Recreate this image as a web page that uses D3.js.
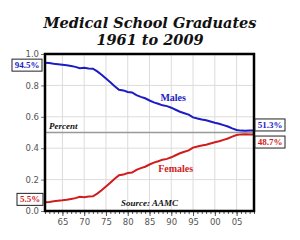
<!DOCTYPE html>
<html>
<head>
<meta charset="utf-8">
<script src="https://cdn.jsdelivr.net/npm/d3@7"></script>
<style>
  body { margin: 0; background: #fff; }
  svg { display: block; }
  .tick text { font-family: 'DejaVu Sans', sans-serif; }
</style>
</head>
<body>
<div id="graph"></div>
<script>
var years = d3.range(1961, 2010)

var males = [
  94.5, 94.2, 93.8, 93.5, 93.2, 92.8, 92.3, 91.8, 91.0, 91.2,
  90.8, 90.6, 88.9, 86.8, 84.4, 82.0, 79.5, 77.2, 76.8, 75.8,
  75.5, 73.8, 72.7, 71.8, 70.4, 69.2, 68.3, 67.3, 66.8, 65.8,
  64.5, 63.2, 62.3, 61.4, 59.6, 58.9, 58.3, 57.8, 57.0, 56.2,
  55.6, 54.7, 53.8, 52.6, 51.6, 51.2, 51.1, 51.2, 51.3
]

var females = [
   5.5,  5.8,  6.2,  6.5,  6.8,  7.2,  7.7,  8.2,  9.0,  8.8,
   9.2,  9.4, 11.1, 13.2, 15.6, 18.0, 20.5, 22.8, 23.2, 24.2,
  24.5, 26.2, 27.3, 28.2, 29.6, 30.8, 31.7, 32.7, 33.2, 34.2,
  35.5, 36.8, 37.7, 38.6, 40.4, 41.1, 41.7, 42.2, 43.0, 43.8,
  44.4, 45.3, 46.2, 47.4, 48.4, 48.8, 48.9, 48.8, 48.7
]

var yTicks = [0, 0.2, 0.4, 0.6, 0.8, 1.0]
var xTicks = [1965, 1970, 1975, 1980, 1985, 1990, 1995, 2000, 2005]
var titleLines = ['Medical School Graduates', '1961 to 2009']

var blue = '#1c1cc4'
var red = '#d01c1c'
var serif = "'Liberation Serif', 'DejaVu Serif', serif"
var titleFont = "'DejaVu Serif', serif"

var W = 300, H = 240
var margin = {left: 45, right: 46, top: 54, bottom: 29}
var width = W - margin.left - margin.right
var height = H - margin.top - margin.bottom

var svg = d3.select('#graph').append('svg')
  .attr('width', W).attr('height', H)

svg.append('rect').attr('width', W).attr('height', H).attr('fill', '#fff')

var title = svg.append('text')
  .attr('text-anchor', 'middle')
  .attr('font-family', titleFont)
  .attr('font-weight', 'bold')
  .attr('font-style', 'italic')
  .attr('font-size', 14.5)
  .attr('fill', '#111')
title.selectAll('tspan').data(titleLines).enter().append('tspan')
  .attr('x', W / 2)
  .attr('y', (d, i) => 28 + i * 17)
  .text(d => d)

var g = svg.append('g').attr('transform', `translate(${margin.left},${margin.top})`)

var x = d3.scaleLinear().domain([1961, 2009]).range([0, width])
var y = d3.scaleLinear().domain([0, 1]).range([height, 0])

// grid
g.append('g').selectAll('line').data(xTicks).enter().append('line')
  .attr('x1', d => x(d)).attr('x2', d => x(d))
  .attr('y1', 0).attr('y2', height)
  .attr('stroke', '#dcdcdc').attr('stroke-width', 1)
g.append('g').selectAll('line').data(yTicks.slice(1, -1)).enter().append('line')
  .attr('x1', 0).attr('x2', width)
  .attr('y1', d => y(d)).attr('y2', d => y(d))
  .attr('stroke', '#dcdcdc').attr('stroke-width', 1)

// 50% reference line
g.append('line')
  .attr('x1', 0).attr('x2', width)
  .attr('y1', y(0.5)).attr('y2', y(0.5))
  .attr('stroke', '#999').attr('stroke-width', 1.5)
g.append('text')
  .attr('x', 4).attr('y', y(0.5) - 4)
  .attr('font-family', serif).attr('font-weight', 'bold').attr('font-style', 'italic')
  .attr('font-size', 9).attr('fill', '#111')
  .text('Percent')

// axes
var yAxis = d3.axisLeft(y).tickValues(yTicks).tickFormat(d3.format('.1f')).tickSize(4).tickPadding(2)
var yG = g.append('g').call(yAxis)
yG.select('.domain').remove()
yG.selectAll('line').attr('stroke', '#777')
yG.selectAll('text').attr('font-size', 8.5).attr('fill', '#555')

var xMinor = d3.axisBottom(x).tickValues(years).tickSize(3).tickFormat('')
var xMinorG = g.append('g').attr('transform', `translate(0,${height})`).call(xMinor)
xMinorG.select('.domain').remove()
xMinorG.selectAll('line').attr('stroke', '#555')

var xAxis = d3.axisBottom(x).tickValues(xTicks).tickSize(5).tickPadding(3)
  .tickFormat(d => String(d).slice(2))
var xG = g.append('g').attr('transform', `translate(0,${height})`).call(xAxis)
xG.select('.domain').remove()
xG.selectAll('line').attr('stroke', '#555')
xG.selectAll('text').attr('font-size', 8.5).attr('fill', '#555')

// lines
var line = d3.line().x((d, i) => x(years[i])).y(d => y(d / 100))
g.append('path').datum(males)
  .attr('d', line).attr('fill', 'none').attr('stroke', blue).attr('stroke-width', 2)
g.append('path').datum(females)
  .attr('d', line).attr('fill', 'none').attr('stroke', red).attr('stroke-width', 2)

// frame
g.append('rect')
  .attr('width', width).attr('height', height)
  .attr('fill', 'none').attr('stroke', '#000').attr('stroke-width', 2.5)

// series labels
g.append('text').attr('x', x(1987.5)).attr('y', y(0.70))
  .attr('font-family', serif).attr('font-weight', 'bold').attr('font-size', 10)
  .attr('fill', blue).text('Males')
g.append('text').attr('x', x(1987)).attr('y', y(0.25))
  .attr('font-family', serif).attr('font-weight', 'bold').attr('font-size', 10)
  .attr('fill', red).text('Females')

g.append('text').attr('x', x(1985)).attr('y', height - 5)
  .attr('text-anchor', 'middle')
  .attr('font-family', serif).attr('font-weight', 'bold').attr('font-style', 'italic')
  .attr('font-size', 9).attr('fill', '#111')
  .text('Source: AAMC')

// value boxes
function valueBox(px, py, w, text, color) {
  var b = svg.append('g').attr('transform', `translate(${px},${py})`)
  b.append('rect').attr('width', w).attr('height', 12)
    .attr('fill', '#fff').attr('stroke', '#222').attr('stroke-width', 1)
  b.append('text').attr('x', w / 2).attr('y', 9).attr('text-anchor', 'middle')
    .attr('font-family', serif).attr('font-weight', 'bold').attr('font-size', 9)
    .attr('fill', color).text(text)
}
var first = 0, last = males.length - 1
valueBox(12, margin.top + y(males[first] / 100) - 3.5, 30, males[first].toFixed(1) + '%', blue)
valueBox(17, margin.top + y(females[first] / 100) - 9, 26, females[first].toFixed(1) + '%', red)
valueBox(255, margin.top + y(males[last] / 100) - 11.5, 30, males[last].toFixed(1) + '%', blue)
valueBox(255, margin.top + y(females[last] / 100) + 1.5, 30, females[last].toFixed(1) + '%', red)
</script>
</body>
</html>
